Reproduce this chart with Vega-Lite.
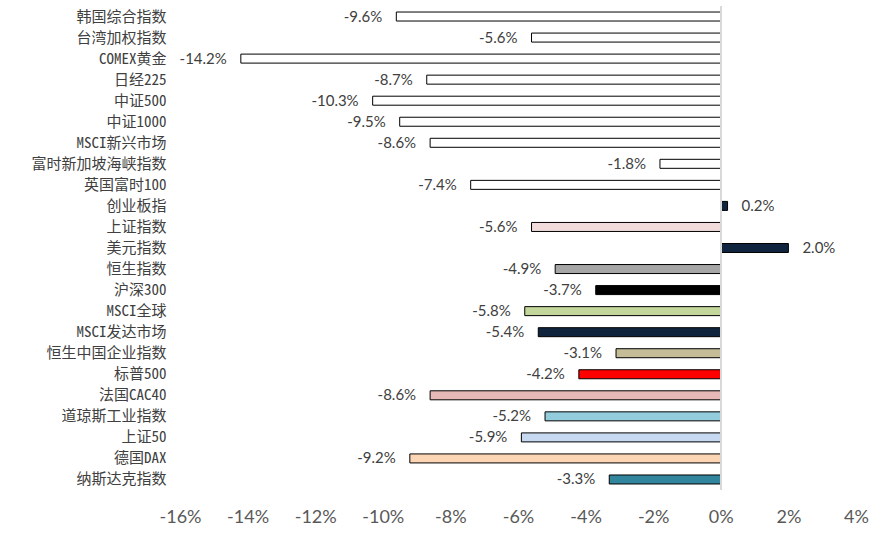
{
  "$schema": "https://vega.github.io/schema/vega-lite/v6.json",
  "autosize": {"type": "none"},
  "width": 676,
  "height": 484,
  "padding": {"left": 180, "top": 6, "right": 26, "bottom": 45},
  "background": "white",
  "config": {"view": {"stroke": null}, "font": "Noto Sans CJK SC"},
  "data": {"values": [
    {"name": "韩国综合指数", "v": -0.096},
    {"name": "台湾加权指数", "v": -0.056},
    {"name": "COMEX黄金", "v": -0.142},
    {"name": "日经225", "v": -0.087},
    {"name": "中证500", "v": -0.103},
    {"name": "中证1000", "v": -0.095},
    {"name": "MSCI新兴市场", "v": -0.086},
    {"name": "富时新加坡海峡指数", "v": -0.018},
    {"name": "英国富时100", "v": -0.074},
    {"name": "创业板指", "v": 0.002},
    {"name": "上证指数", "v": -0.056},
    {"name": "美元指数", "v": 0.020},
    {"name": "恒生指数", "v": -0.049},
    {"name": "沪深300", "v": -0.037},
    {"name": "MSCI全球", "v": -0.058},
    {"name": "MSCI发达市场", "v": -0.054},
    {"name": "恒生中国企业指数", "v": -0.031},
    {"name": "标普500", "v": -0.042},
    {"name": "法国CAC40", "v": -0.086},
    {"name": "道琼斯工业指数", "v": -0.052},
    {"name": "上证50", "v": -0.059},
    {"name": "德国DAX", "v": -0.092},
    {"name": "纳斯达克指数", "v": -0.033}
  ]},
  "encoding": {
    "y": {
      "field": "name", "type": "nominal", "sort": null, "title": null,
      "axis": {"domain": false, "ticks": false, "labelPadding": 14, "labelFontSize": 15, "labelColor": "#404040", "labelFont": "Noto Sans Mono CJK SC, Noto Sans CJK SC"}
    },
    "x": {
      "field": "v", "type": "quantitative", "title": null,
      "scale": {"domain": [-0.16, 0.04], "nice": false, "zero": false},
      "axis": {"format": ".0%", "labelExpr": "replace(datum.label, '\u2212', '-')", "values": [-0.16, -0.14, -0.12, -0.1, -0.08, -0.06, -0.04, -0.02, 0, 0.02, 0.04], "grid": false, "domain": false, "ticks": false, "labelFlush": false, "labelPadding": 18, "labelFontSize": 18, "labelColor": "#595959", "labelFont": "Lato"}
    }
  },
  "layer": [
    {
      "mark": {"type": "bar", "size": 9, "stroke": "black", "strokeWidth": 1},
      "encoding": {
        "color": {
          "field": "name", "type": "nominal", "legend": null,
          "scale": {
            "domain": ["韩国综合指数", "台湾加权指数", "COMEX黄金", "日经225", "中证500", "中证1000", "MSCI新兴市场", "富时新加坡海峡指数", "英国富时100", "创业板指", "上证指数", "美元指数", "恒生指数", "沪深300", "MSCI全球", "MSCI发达市场", "恒生中国企业指数", "标普500", "法国CAC40", "道琼斯工业指数", "上证50", "德国DAX", "纳斯达克指数"],
            "range": ["#ffffff", "#ffffff", "#ffffff", "#ffffff", "#ffffff", "#ffffff", "#ffffff", "#ffffff", "#ffffff", "#10243e", "#f2dcdb", "#10243e", "#a6a6a6", "#000000", "#c3d69b", "#10243e", "#c4bd97", "#ff0000", "#e6b9b8", "#93cddd", "#c6d9f1", "#fcd5b5", "#31859c"]
          }
        }
      }
    },
    {
      "mark": {"type": "rule", "color": "#d9d9d9", "strokeWidth": 1.5},
      "encoding": {"x": {"datum": 0}, "y": {"value": 0}, "y2": {"value": 484}}
    },
    {
      "transform": [{"filter": "datum.v < 0"}],
      "mark": {"type": "text", "align": "right", "baseline": "middle", "dx": -14, "fontSize": 15, "color": "#404040", "font": "Lato", "text": {"expr": "replace(format(datum.v, '.1%'), '\u2212', '-')"}},
      "encoding": {}
    },
    {
      "transform": [{"filter": "datum.v >= 0"}],
      "mark": {"type": "text", "align": "left", "baseline": "middle", "dx": 14, "fontSize": 15, "color": "#404040", "font": "Lato", "text": {"expr": "replace(format(datum.v, '.1%'), '\u2212', '-')"}},
      "encoding": {}
    }
  ]
}
